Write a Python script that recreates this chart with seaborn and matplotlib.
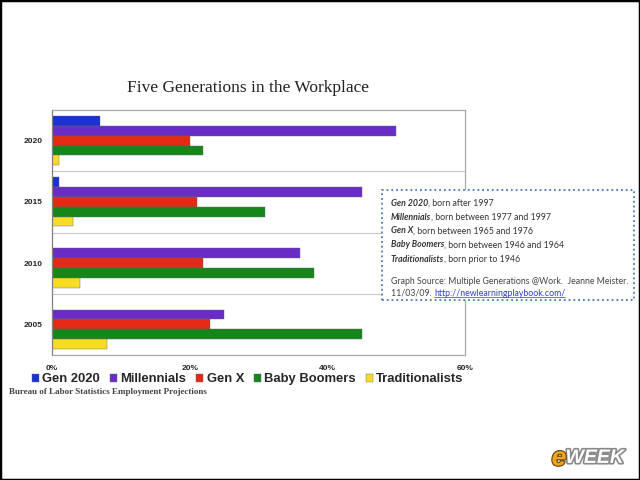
import matplotlib
matplotlib.use("Agg")
import matplotlib.pyplot as plt
import matplotlib.patheffects as pe
from matplotlib.patches import Rectangle
from matplotlib.lines import Line2D
import pandas as pd
import seaborn as sns

sns.set_style("white")
plt.rcParams["font.family"] = ["Liberation Sans", "DejaVu Sans"]

# ---- data ----
years = ["2020", "2015", "2010", "2005"]
generations = ["Gen 2020", "Millennials", "Gen X", "Baby Boomers", "Traditionalists"]
gen2020 = [7, 1, 0, 0]
millennials = [50, 45, 36, 25]
gen_x = [20, 21, 22, 23]
boomers = [22, 31, 38, 45]
traditionalists = [1, 3, 4, 8]
colors = ["#1b32d2", "#6a2cc6", "#e42a12", "#17861a", "#f6dc22"]
x_ticks = [0, 20, 40, 60]

notes = [
    ("Gen 2020", ", born after 1997"),
    ("Millennials", ", born between 1977 and 1997"),
    ("Gen X", ", born between 1965 and 1976"),
    ("Baby Boomers", ", born between 1946 and 1964"),
    ("Traditionalists", ", born prior to 1946"),
]

series = [gen2020, millennials, gen_x, boomers, traditionalists]
df = pd.DataFrame(
    [(y, g, v) for g, vals in zip(generations, series) for y, v in zip(years, vals)],
    columns=["year", "generation", "share"],
)

fig = plt.figure(figsize=(6.4, 4.8), dpi=100)
ax = fig.add_axes([0.0813, 0.2604, 0.6453, 0.5104])

sns.barplot(data=df, x="share", y="year", hue="generation", order=years,
            hue_order=generations, palette=colors, orient="h", width=0.8,
            saturation=1, edgecolor="#666666", linewidth=0.3, ax=ax)

ax.set_xlim(0, 60)
ax.set_ylim(3.5, -0.5)
ax.set_xticks(x_ticks)
ax.set_xticklabels([f"{v}%" for v in x_ticks], fontsize=6, fontweight="bold")
ax.set_yticks(range(len(years)))
ax.set_yticklabels(years, fontsize=6, fontweight="bold")
ax.tick_params(axis="both", length=0, pad=7)
ax.set_xlabel("")
ax.set_ylabel("")
for y in [0.5, 1.5, 2.5]:
    ax.axhline(y, color="#c8c8c8", lw=0.8, zorder=0)
for s in ax.spines.values():
    s.set_color("#a8a8a8")
    s.set_linewidth(0.9)
ax.spines["left"].set_color("#808080")

sns.move_legend(ax, "center", bbox_to_anchor=(0.387, 0.21),
                bbox_transform=fig.transFigure, ncol=5, frameon=False, title=None,
                prop={"size": 9.4, "weight": "bold"}, handlelength=0.55,
                handleheight=0.55, handletextpad=0.25, columnspacing=0.75)

fig.text(0.387, 0.816, "Five Generations in the Workplace", ha="center", va="center",
         fontsize=12.5, family="Liberation Serif", color="#222222")
fig.text(0.014, 0.183, "Bureau of Labor Statistics Employment Projections",
         ha="left", va="center", fontsize=6.5, family="Liberation Serif",
         fontweight="bold", color="#444444")

# ---- definition box ----
fig.add_artist(Rectangle((0.597, 0.375), 0.394, 0.229, transform=fig.transFigure,
                         facecolor="white", edgecolor="#4a78b8", linestyle=":",
                         lw=1.3, zorder=5))

note_font = ["Lato", "DejaVu Sans"]
line_y = [203, 217, 231, 245, 260]
for (name, rest), yp in zip(notes, line_y):
    t1 = fig.text(391 / 640, 1 - yp / 480, name, fontsize=6.3, family=note_font,
                  fontweight="bold", style="italic", color="#333333",
                  va="center", zorder=6)
    fig.add_artist(plt.Annotation(rest, xy=(1, 0.5), xycoords=t1, va="center",
                                  ha="left", fontsize=6.3, family=note_font,
                                  color="#333333", zorder=6))
fig.text(391 / 640, 1 - 281 / 480,
         "Graph Source: Multiple Generations @Work.  Jeanne Meister.",
         fontsize=6.3, family=note_font, color="#444444", va="center", zorder=6)
t_date = fig.text(391 / 640, 1 - 293 / 480, "11/03/09. ", fontsize=6.3,
                  family=note_font, color="#444444", va="center", zorder=6)
link = fig.add_artist(plt.Annotation("http://newlearningplaybook.com/", xy=(1, 0.5),
                                     xycoords=t_date, va="center", ha="left",
                                     fontsize=6.3, family=note_font,
                                     color="#2a3fd0", zorder=6))

# underline the link
fig.canvas.draw()
bb = link.get_window_extent().transformed(fig.transFigure.inverted())
fig.add_artist(Line2D([bb.x0, bb.x1], [bb.y0 + 0.002, bb.y0 + 0.002],
                      transform=fig.transFigure, color="#2a3fd0", lw=0.5, zorder=6))

# ---- logo and outer frame ----
e_txt = fig.text(0.862, 0.045, "e", fontsize=19, fontweight="bold", style="italic",
                 color="#f2a41c", ha="left", va="center",
                 path_effects=[pe.withStroke(linewidth=1.8, foreground="#6a5020")])
fig.add_artist(plt.Annotation("WEEK", xy=(0.95, 0.5), xycoords=e_txt, fontsize=14,
                              fontweight="bold", style="italic", color="white",
                              ha="left", va="center",
                              path_effects=[pe.withStroke(linewidth=2.4,
                                                          foreground="#8a8a8a")]))
fig.add_artist(Rectangle((0, 0), 1, 1, transform=fig.transFigure, fill=False,
                         edgecolor="black", lw=2.5, zorder=10))

fig.savefig("out.png", dpi=100)
